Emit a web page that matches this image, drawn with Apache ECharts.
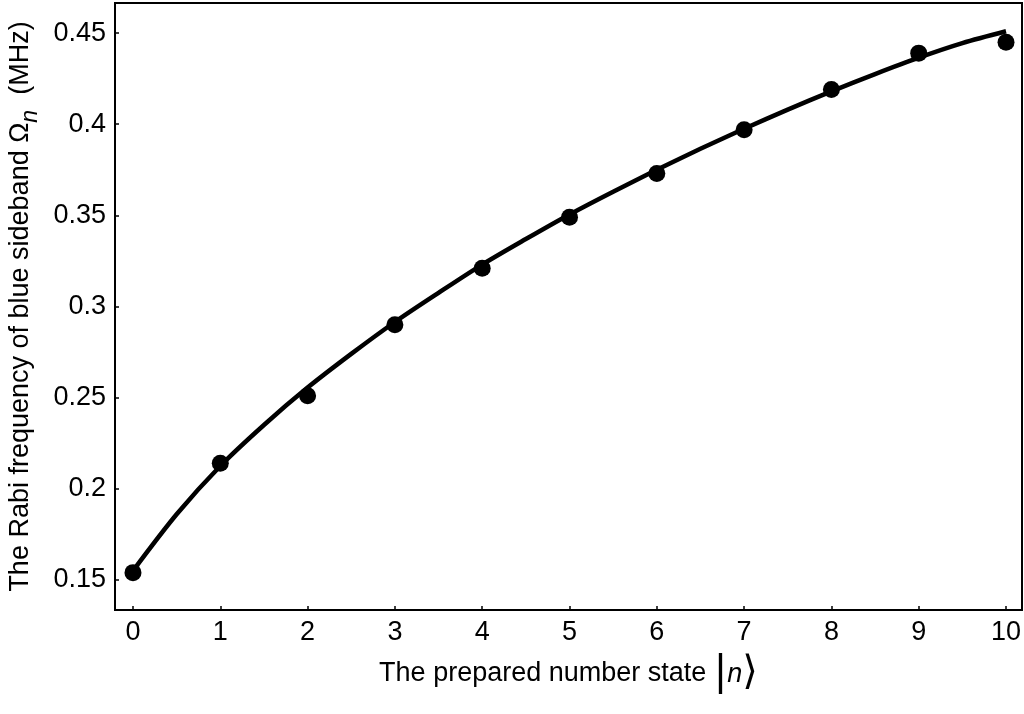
<!DOCTYPE html>
<html>
<head>
<meta charset="utf-8">
<style>
	html, body { margin: 0; padding: 0; background: #fff; }
	#chart { width: 1024px; height: 714px; }
</style>
<script src="https://cdn.jsdelivr.net/npm/echarts@6/dist/echarts.min.js"></script>
</head>
<body>
<div id="chart"></div>
<script>
	// measured points
	var stateN = [0, 1, 2, 3, 4, 5, 6, 7, 8, 9, 10];
	var rabiMeasured = [0.154, 0.214, 0.251, 0.290, 0.321, 0.349, 0.373, 0.397, 0.419, 0.439, 0.445];
	// fitted curve, read at half steps
	var fitN = [0, 0.5, 1, 1.5, 2, 2.5, 3, 3.5, 4, 4.5, 5, 5.5, 6, 6.5, 7, 7.5, 8, 8.5, 9, 9.5, 10];
	var rabiFit = [0.155, 0.186, 0.2125, 0.235, 0.2555, 0.274, 0.2915, 0.3075, 0.323, 0.337, 0.3505,
		0.363, 0.375, 0.3865, 0.3975, 0.408, 0.418, 0.4275, 0.4365, 0.4445, 0.451];
	var xTicks = [0, 1, 2, 3, 4, 5, 6, 7, 8, 9, 10];
	var yTicks = [0.15, 0.2, 0.25, 0.3, 0.35, 0.4, 0.45];

	var chart = echarts.init(document.getElementById('chart'));
	var font = 'Liberation Sans, Arial, sans-serif';

	var option = {
		backgroundColor: '#fff',
		animation: false,
		grid: {
			left: 115,
			right: 2,
			top: 3,
			bottom: 104,
			show: true,
			borderColor: '#000',
			borderWidth: 2,
			containLabel: false,
			outerBoundsMode: 'none'
		},
		xAxis: {
			type: 'value',
			min: -0.206,
			max: 10.183,
			name: '{a|The prepared number state }{b||}{c|n}{d|⟩}',
			nameLocation: 'middle',
			nameGap: 44,
			nameTextStyle: {
				rich: {
					a: { fontFamily: font, fontSize: 27, color: '#000' },
					b: { fontFamily: 'DejaVu Sans', fontSize: 40, color: '#000' },
					c: { fontFamily: font, fontSize: 27, fontStyle: 'italic', color: '#000' },
					d: { fontFamily: 'DejaVu Sans', fontSize: 40, color: '#000' }
				}
			},
			axisLine: { onZero: false, lineStyle: { color: '#000', width: 2 } },
			axisTick: {
				inside: true,
				length: 4,
				lineStyle: { color: '#000', width: 1.5 },
				customValues: xTicks
			},
			axisLabel: {
				customValues: xTicks,
				color: '#000',
				fontFamily: font,
				fontSize: 27,
				margin: 9
			},
			splitLine: { show: false }
		},
		yAxis: {
			type: 'value',
			min: 0.1335,
			max: 0.4665,
			name: '{a|The Rabi frequency of blue sideband Ω}{s|n}{a|  (MHz)}',
			nameLocation: 'middle',
			nameGap: 70,
			nameRotate: 90,
			nameTextStyle: {
				rich: {
					a: { fontFamily: font, fontSize: 27, color: '#000', lineHeight: 36, verticalAlign: 'top' },
					s: { fontFamily: font, fontSize: 23, fontStyle: 'italic', color: '#000', lineHeight: 36, verticalAlign: 'bottom', padding: [10, 0, 0, 0] }
				}
			},
			axisLine: { onZero: false, lineStyle: { color: '#000', width: 2 } },
			axisTick: {
				inside: true,
				length: 4,
				lineStyle: { color: '#000', width: 1.5 },
				customValues: yTicks
			},
			axisLabel: {
				customValues: yTicks,
				color: '#000',
				fontFamily: font,
				fontSize: 27,
				margin: 9
			},
			splitLine: { show: false }
		},
		series: [
			{
				name: 'fit',
				type: 'line',
				smooth: 0.3,
				showSymbol: false,
				lineStyle: { color: '#000', width: 4.5 },
				data: fitN.map(function (n, i) { return [n, rabiFit[i]]; }),
				z: 2
			},
			{
				name: 'measured',
				type: 'scatter',
				symbol: 'circle',
				symbolSize: 17,
				itemStyle: { color: '#000', opacity: 1 },
				data: stateN.map(function (n, i) { return [n, rabiMeasured[i]]; }),
				z: 3
			}
		]
	};
	chart.setOption(option);
</script>
</body>
</html>
